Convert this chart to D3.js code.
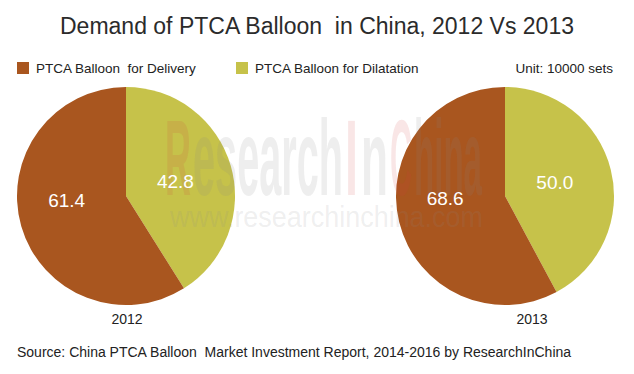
<!DOCTYPE html>
<html>
<head>
<meta charset="utf-8">
<script src="https://cdn.jsdelivr.net/npm/d3@7"></script>
<style>
  body { margin: 0; background: #fff; }
  svg { font-family: "Liberation Sans", Arial, sans-serif; }
  svg text { white-space: pre; }
</style>
</head>
<body>
<svg id="chart" width="634" height="374"></svg>
<script>
// chart data
const years = ["2012", "2013"];
const seriesNames = ["PTCA Balloon for Dilatation", "PTCA Balloon  for Delivery"];
const dilatation = [42.8, 50.0];
const delivery = [61.4, 68.6];
const colors = ["#c6c24a", "#a9561f"];

const dim = { width: 634, height: 374 };
const radius = 109;

const svg = d3.select("#chart");

// title
svg.append("text")
  .attr("x", dim.width / 2)
  .attr("y", 34)
  .attr("text-anchor", "middle")
  .attr("font-size", 23)
  .attr("fill", "#2b2b2b")
  .text("Demand of PTCA Balloon  in China, 2012 Vs 2013");

// legend (delivery first, like the picture)
const legend = svg.append("g");
const legendItems = [
  { name: seriesNames[1], color: colors[1], x: 17 },
  { name: seriesNames[0], color: colors[0], x: 236 }
];
legendItems.forEach(d => {
  legend.append("rect")
    .attr("x", d.x).attr("y", 62)
    .attr("width", 12).attr("height", 12)
    .attr("fill", d.color);
  legend.append("text")
    .attr("x", d.x + 19).attr("y", 73)
    .attr("font-size", 13.5)
    .attr("fill", "#222")
    .text(d.name);
});
legend.append("text")
  .attr("x", 613).attr("y", 73)
  .attr("text-anchor", "end")
  .attr("font-size", 13.5)
  .attr("fill", "#222")
  .text("Unit: 10000 sets");

// watermark sits behind the pies' labels but is blended over the slices
function drawWatermark() {
  const wm = svg.append("g").attr("pointer-events", "none");
  const wmParts = [
    { t: "R", x: 165, w: 26, red: true },
    { t: "esearch", x: 193, w: 150, red: false },
    { t: "I", x: 345, w: 13, red: true },
    { t: "n", x: 361, w: 27, red: false },
    { t: "C", x: 390, w: 22, red: true },
    { t: "hina", x: 414, w: 68, red: false }
  ];
  wmParts.forEach(p => {
    wm.append("text")
      .attr("transform", `translate(${p.x}, 195) scale(1, 1.8)`)
      .attr("font-size", 60)
      .attr("font-weight", "bold")
      .attr("textLength", p.w)
      .attr("lengthAdjust", "spacingAndGlyphs")
      .attr("fill", p.red ? "#d23a3a" : "#8a8a8a")
      .attr("fill-opacity", p.red ? 0.13 : 0.14)
      .text(p.t);
  });
  wm.append("text")
    .attr("x", 170).attr("y", 227)
    .attr("font-size", 30)
    .attr("textLength", 313)
    .attr("lengthAdjust", "spacingAndGlyphs")
    .attr("fill", "#8a8a8a")
    .attr("fill-opacity", 0.14)
    .text("www.researchinchina.com");
}

// pie layout: dilatation starts at 12 o'clock going clockwise
const pie = d3.pie().sort(null).value(d => d.value);
const arc = d3.arc().innerRadius(0).outerRadius(radius);
const labelArc = d3.arc().innerRadius(0).outerRadius(radius);

const centers = d3.scalePoint().domain(years).range([126, 505]);
const yearLabelX = [127, 532];

const pieGroups = years.map((yr, i) => {
  const vals = [
    { key: "dil", value: dilatation[i], color: colors[0], nudge: [-3, 0] },
    { key: "del", value: delivery[i], color: colors[1], nudge: [-7, -11] }
  ];
  const g = svg.append("g")
    .attr("transform", `translate(${centers(yr)}, 196)`);
  const slices = pie(vals);
  g.selectAll("path")
    .data(slices)
    .enter().append("path")
      .attr("d", arc)
      .attr("fill", d => d.data.color);
  return { g, slices, yr, i };
});

drawWatermark();

pieGroups.forEach(({ g, slices, yr, i }) => {
  const lg = svg.append("g")
    .attr("transform", `translate(${centers(yr)}, 196)`);
  lg.selectAll("text.val")
    .data(slices)
    .enter().append("text")
      .attr("class", "val")
      .attr("transform", d => {
        const c = labelArc.centroid(d);
        return `translate(${c[0] + d.data.nudge[0]}, ${c[1] + d.data.nudge[1]})`;
      })
      .attr("text-anchor", "middle")
      .attr("dy", "0.35em")
      .attr("font-size", 19)
      .attr("fill", "#fff")
      .text(d => d.data.value.toFixed(1));

  svg.append("text")
    .attr("x", yearLabelX[i])
    .attr("y", 324)
    .attr("text-anchor", "middle")
    .attr("font-size", 14)
    .attr("fill", "#222")
    .text(yr);
});

// source
svg.append("text")
  .attr("x", 17).attr("y", 357)
  .attr("font-size", 14)
  .attr("fill", "#222")
  .text("Source: China PTCA Balloon  Market Investment Report, 2014-2016 by ResearchInChina");
</script>
</body>
</html>
